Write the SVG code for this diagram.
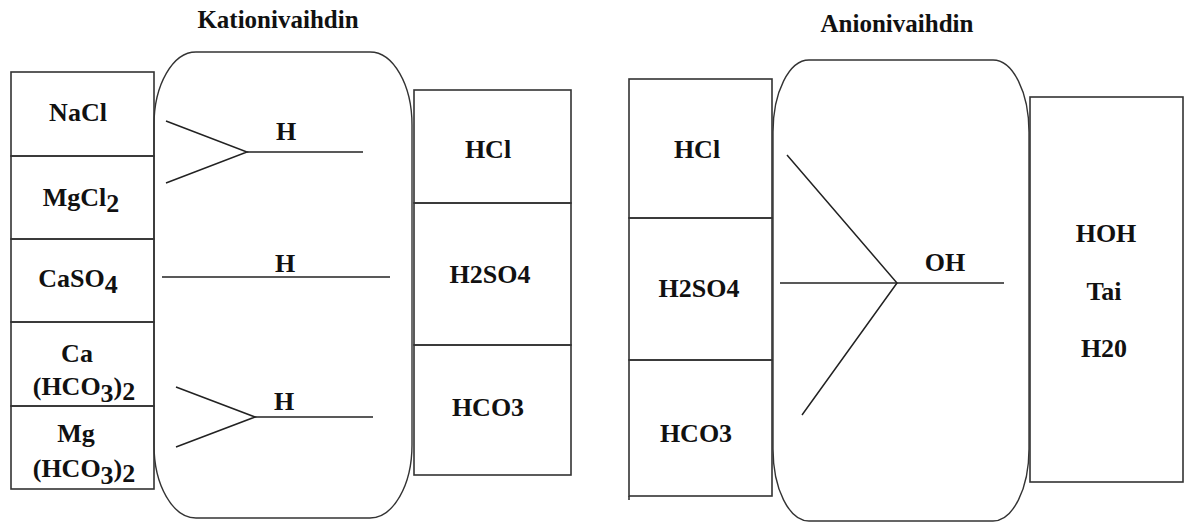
<svg xmlns="http://www.w3.org/2000/svg" width="1195" height="522" viewBox="0 0 1195 522">
  <style>
    .bg { fill: #ffffff; }
    .box { fill: none; stroke: #333; stroke-width: 1.6; }
    .vessel { fill: none; stroke: #333; stroke-width: 1.4; }
    .conn { stroke: #222; stroke-width: 1.5; fill: none; }
    text { font-family: "Liberation Serif", "Times New Roman", serif; font-weight: bold; fill: #111; text-anchor: middle; }
    .lbl { font-size: 26px; }
    .title { font-size: 25px; }
  </style>
  <rect class="bg" x="0" y="0" width="1195" height="522"/>

  <!-- Cation exchanger -->
  <g id="cation-title">
    <text class="title" x="278" y="28">Kationivaihdin</text>
  </g>

  <g id="cation-vessel">
    <rect class="vessel" x="154" y="52" width="258" height="466" rx="42" ry="73"/>
  </g>

  <g id="feed-nacl">
    <rect class="box" x="11" y="72" width="143" height="84"/>
    <text class="lbl" x="78" y="121">NaCl</text>
  </g>
  <g id="feed-mgcl2">
    <rect class="box" x="11" y="156" width="143" height="83"/>
    <text class="lbl" x="81" y="206">MgCl<tspan dy="6">2</tspan></text>
  </g>
  <g id="feed-caso4">
    <rect class="box" x="11" y="239" width="143" height="83"/>
    <text class="lbl" x="78" y="287">CaSO<tspan dy="6">4</tspan></text>
  </g>
  <g id="feed-cahco3">
    <rect class="box" x="11" y="322" width="143" height="84"/>
    <text class="lbl" x="77" y="362">Ca</text>
    <text class="lbl" x="84" y="395">(HCO<tspan dy="7">3</tspan><tspan dy="-7">)</tspan><tspan dy="5">2</tspan></text>
  </g>
  <g id="feed-mghco3">
    <rect class="box" x="11" y="406" width="143" height="83"/>
    <text class="lbl" x="76" y="442">Mg</text>
    <text class="lbl" x="84" y="477">(HCO<tspan dy="7">3</tspan><tspan dy="-7">)</tspan><tspan dy="5">2</tspan></text>
  </g>

  <g id="acid-hcl">
    <rect class="box" x="414" y="90" width="157" height="113"/>
    <text class="lbl" x="488" y="158">HCl</text>
  </g>
  <g id="acid-h2so4">
    <rect class="box" x="414" y="203" width="157" height="142"/>
    <text class="lbl" x="490" y="283">H2SO4</text>
  </g>
  <g id="acid-hco3">
    <rect class="box" x="414" y="345" width="157" height="130"/>
    <text class="lbl" x="488" y="416">HCO3</text>
  </g>

  <!-- Anion exchanger -->
  <g id="anion-title">
    <text class="title" x="897" y="32">Anionivaihdin</text>
  </g>

  <g id="anion-vessel">
    <rect class="vessel" x="773" y="60" width="256" height="461" rx="36" ry="72"/>
  </g>

  <g id="anion-hcl">
    <rect class="box" x="629" y="79" width="143" height="139"/>
    <text class="lbl" x="697" y="158">HCl</text>
  </g>
  <g id="anion-h2so4">
    <rect class="box" x="629" y="218" width="143" height="142"/>
    <text class="lbl" x="699" y="297">H2SO4</text>
  </g>
  <g id="anion-hco3">
    <rect class="box" x="629" y="360" width="143" height="136"/>
    <line class="box" x1="629" y1="496" x2="629" y2="500"/>
    <text class="lbl" x="696" y="442">HCO3</text>
  </g>

  <g id="product-water">
    <rect class="box" x="1030" y="97" width="153" height="385"/>
    <text class="lbl" x="1106" y="242">HOH</text>
    <text class="lbl" x="1104" y="300">Tai</text>
    <text class="lbl" x="1104" y="357">H20</text>
  </g>

  <!-- Ion exchange connectors -->
  <g id="connectors">
    <polyline class="conn" points="166,121 247,152 166,183"/>
    <line class="conn" x1="247" y1="152" x2="363" y2="152"/>
    <line class="conn" x1="162" y1="277" x2="390" y2="277"/>
    <polyline class="conn" points="176,387 255,417 176,447"/>
    <line class="conn" x1="255" y1="417" x2="373" y2="417"/>
    <polyline class="conn" points="787,155 897,283 802,415"/>
    <line class="conn" x1="780" y1="283" x2="1004" y2="283"/>
  </g>
  <g id="connector-labels">
    <text class="lbl" x="286" y="140">H</text>
    <text class="lbl" x="285" y="272">H</text>
    <text class="lbl" x="284" y="410">H</text>
    <text class="lbl" x="945" y="271">OH</text>
  </g>
</svg>
